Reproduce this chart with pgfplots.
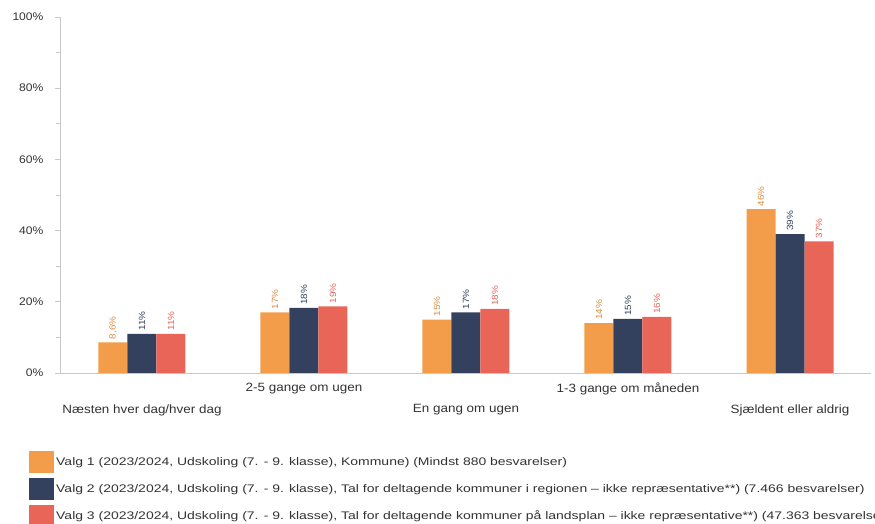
\documentclass[border=0pt]{standalone}
\usepackage{graphicx}
\usepackage{pgfplots}
\usepackage{pgfplotstable}
\pgfplotsset{compat=1.18}
\usepackage{fontspec}
\setmainfont{Liberation Sans}
\definecolor{cOrange}{RGB}{243,156,74}
\definecolor{cNavy}{RGB}{52,65,94}
\definecolor{cRed}{RGB}{232,101,88}
\definecolor{axgray}{RGB}{200,200,200}
\definecolor{txt}{RGB}{50,50,50}
\newcommand{\sx}[2]{\scalebox{#1}[1]{#2}}

\pgfplotstableread{
x y lab
0 8.6 {8,6}
1 17 17
2 15 15
3 14 14
4 46 46
}\valgA
\pgfplotstableread{
x y lab
0 11 11
1 18.3 18
2 17 17
3 15.2 15
4 39 39
}\valgB
\pgfplotstableread{
x y lab
0 11 11
1 18.7 19
2 18 18
3 15.8 16
4 37 37
}\valgC

\begin{document}
\begin{tikzpicture}
\path[use as bounding box] (-60pt,-151pt) rectangle (815pt,373pt);
\begin{axis}[
  at={(0pt,0pt)}, anchor=south west,
  scale only axis,
  width=811pt, height=356pt,
  xmin=-0.506, xmax=4.5,
  ymin=0, ymax=100,
  axis x line*=bottom, axis y line*=left,
  axis line style={axgray, line width=0.8pt, -},
  ytick={0,20,...,100},
  minor ytick={10,30,...,90},
  tick align=outside,
  major tick length=5pt, minor tick length=4pt,
  tick style={axgray, line width=0.8pt},
  y tick label style={font=\fontsize{11}{13}\selectfont, text=txt, xshift=-8pt},
  /pgf/number format/assume math mode=true,
  yticklabel={\sx{1.1}{\pgfmathprintnumber{\tick}\%}},
  xtick={0,2,4},
  xticklabels={{\sx{1.12}{Næsten hver dag/hver dag}},{\sx{1.12}{En gang om ugen}},{\sx{1.12}{Sjældent eller aldrig}}},
  x tick label style={font=\fontsize{12}{14}\selectfont, text=txt, anchor=center, yshift=-32pt},
  extra x ticks={1,3},
  extra x tick labels={{\sx{1.12}{2-5 gange om ugen}},{\sx{1.12}{1-3 gange om måneden}}},
  extra x tick style={x tick label style={yshift=21pt}},
  xtick style={draw=none},
  ybar, bar width=0.179,
  point meta=explicit symbolic,
  nodes near coords={\sx{1.1}{\pgfplotspointmeta\%}},
  every node near coord/.append style={rotate=90, anchor=west, font=\fontsize{9}{10}\selectfont, inner sep=3pt},
  legend style={at={(0,0)}, anchor=north west, xshift=-34pt, yshift=-76pt, draw=none, fill=none,
    font=\fontsize{11}{13}\selectfont, text=txt, row sep=5pt, cells={anchor=west}},
  legend cell align=left,
  legend image code/.code={\fill[#1] (0pt,-11pt) rectangle (25pt,11pt);},
]
\addplot[fill=cOrange, draw=none, bar shift=-0.179, every node near coord/.append style={text=cOrange!90!black}] table[x=x, y=y, meta=lab]{\valgA};
\addplot[fill=cNavy, draw=none, bar shift=0, every node near coord/.append style={text=cNavy}] table[x=x, y=y, meta=lab]{\valgB};
\addplot[fill=cRed, draw=none, bar shift=0.179, every node near coord/.append style={text=cRed}] table[x=x, y=y, meta=lab]{\valgC};
\legend{{\sx{1.27}{Valg 1 (2023/2024, Udskoling (7. - 9. klasse), Kommune) (Mindst 880 besvarelser)}},
{\sx{1.27}{Valg 2 (2023/2024, Udskoling (7. - 9. klasse), Tal for deltagende kommuner i regionen – ikke repræsentative**) (7.466 besvarelser)}},
{\sx{1.27}{Valg 3 (2023/2024, Udskoling (7. - 9. klasse), Tal for deltagende kommuner på landsplan – ikke repræsentative**) (47.363 besvarelser)}}}
\end{axis}
\end{tikzpicture}
\end{document}
